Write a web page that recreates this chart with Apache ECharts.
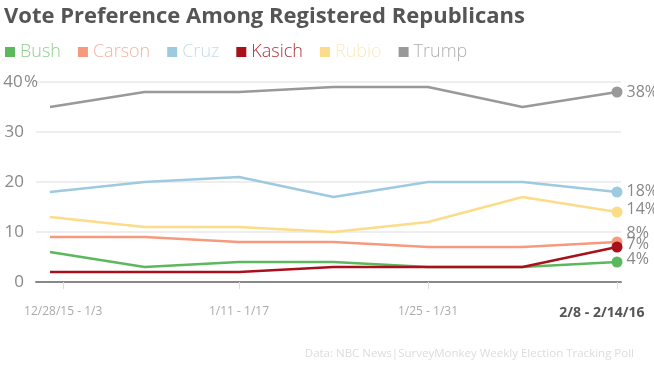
<!DOCTYPE html>
<html>
<head>
<meta charset="utf-8">
<script src="https://cdn.jsdelivr.net/npm/echarts@6/dist/echarts.min.js"></script>
<style>html,body{margin:0;padding:0;background:#fff}#c{width:654px;height:368px}</style>
</head>
<body>
<div id="c"></div>
<script>
const weeks = ['12/28/15 - 1/3','1/4 - 1/10','1/11 - 1/17','1/18 - 1/24','1/25 - 1/31','2/1 - 2/7','2/8 - 2/14/16'];
const bush   = [6, 3, 4, 4, 3, 3, 4];
const carson = [9, 9, 8, 8, 7, 7, 8];
const cruz   = [18, 20, 21, 17, 20, 20, 18];
const kasich = [2, 2, 2, 3, 3, 3, 7];
const rubio  = [13, 11, 11, 10, 12, 17, 14];
const trump  = [35, 38, 38, 39, 39, 35, 38];
const yTicks = [0, 10, 20, 30, 40];

const seriesDefs = [
  {name:'Bush',   data:bush,   line:'#5cb85c', legendText:'#8fcf8f', offset:[0,-3]},
  {name:'Carson', data:carson, line:'#f59a7e', legendText:'#f3b3a0', offset:[0,-9]},
  {name:'Cruz',   data:cruz,   line:'#9ecae1', legendText:'#c3dcea', offset:[0,-1]},
  {name:'Kasich', data:kasich, line:'#a8101c', legendText:'#b0303c', offset:[0,-3]},
  {name:'Rubio',  data:rubio,  line:'#fcdc88', legendText:'#fbe9c0', offset:[0,-3]},
  {name:'Trump',  data:trump,  line:'#999999', legendText:'#b0b0b0', offset:[0,0]}
];
const last = weeks.length - 1;
const font = '"Open Sans", sans-serif';

const chart = echarts.init(document.getElementById('c'), null, {renderer:'canvas'});
chart.setOption({
  animation: false,
  backgroundColor: '#fff',
  title: {
    text: 'Vote Preference Among Registered Republicans',
    left: -1, top: 1,
    textStyle: {fontFamily: font, fontSize: 22, fontWeight: 'bold', color: '#555'}
  },
  legend: {
    left: 0, top: 38,
    icon: 'rect', itemWidth: 10, itemHeight: 10, itemGap: 17,
    textStyle: {fontFamily: font, fontSize: 18, fontWeight: 300},
    data: seriesDefs.map(s => ({name: s.name, textStyle: {color: s.legendText}}))
  },
  grid: {left: 36, right: 33, top: 82, bottom: 86},
  xAxis: {
    type: 'value', min: -0.148, max: 6.042,
    splitLine: {show: false},
    axisLine: {show: true, onZero: false, lineStyle: {color: '#888', width: 2}},
    axisTick: {show: true, customValues: [0.14, 2, 4, 6], length: 7, inside: false,
               lineStyle: {color: '#ddd', width: 1}},
    axisLabel: {
      customValues: [0.14, 2, 4, 5.84],
      margin: 24,
      fontFamily: font, fontSize: 12, color: '#aaa',
      formatter: v => {
        const i = Math.round(v);
        return i === last ? '{b|' + weeks[i] + '}' : weeks[i];
      },
      rich: {b: {fontFamily: font, fontSize: 14, fontWeight: 'bold', color: '#555'}}
    }
  },
  yAxis: {
    type: 'value', min: 0, max: 40, interval: 10,
    axisLine: {show: false}, axisTick: {show: false},
    splitLine: {lineStyle: {color: '#e8e8e8', width: 1.5}},
    axisLabel: {
      align: 'left',
      margin: 34,
      fontFamily: font, fontSize: 17, color: '#888',
      formatter: v => v === yTicks[yTicks.length - 1] ? '{n|' + v + '}{p|%}' : '{n|' + v + '}',
      rich: {
        n: {fontFamily: font, fontSize: 17, color: '#888', width: 22, align: 'right'},
        p: {fontFamily: font, fontSize: 17, color: '#888'}
      }
    }
  },
  series: seriesDefs.map(s => ({
    name: s.name,
    type: 'line',
    silent: true,
    symbol: 'none',
    color: s.line,
    lineStyle: {color: s.line, width: 2.5},
    itemStyle: {color: s.line},
    data: s.data.map((v, i) => i === last ? {
      value: [i, v], symbol: 'circle', symbolSize: 11,
      label: {show: true, position: 'right', distance: 4, offset: s.offset,
              formatter: v + '%', fontFamily: font, fontSize: 16, color: '#888'}
    } : [i, v])
  })),
  graphic: [{
    type: 'text', right: 20, top: 348,
    style: {text: 'Data: NBC News|SurveyMonkey Weekly Election Tracking Poll',
            fontFamily: font, fontSize: 11.5, fill: '#dcdcdc'}
  }]
});
</script>
</body>
</html>
